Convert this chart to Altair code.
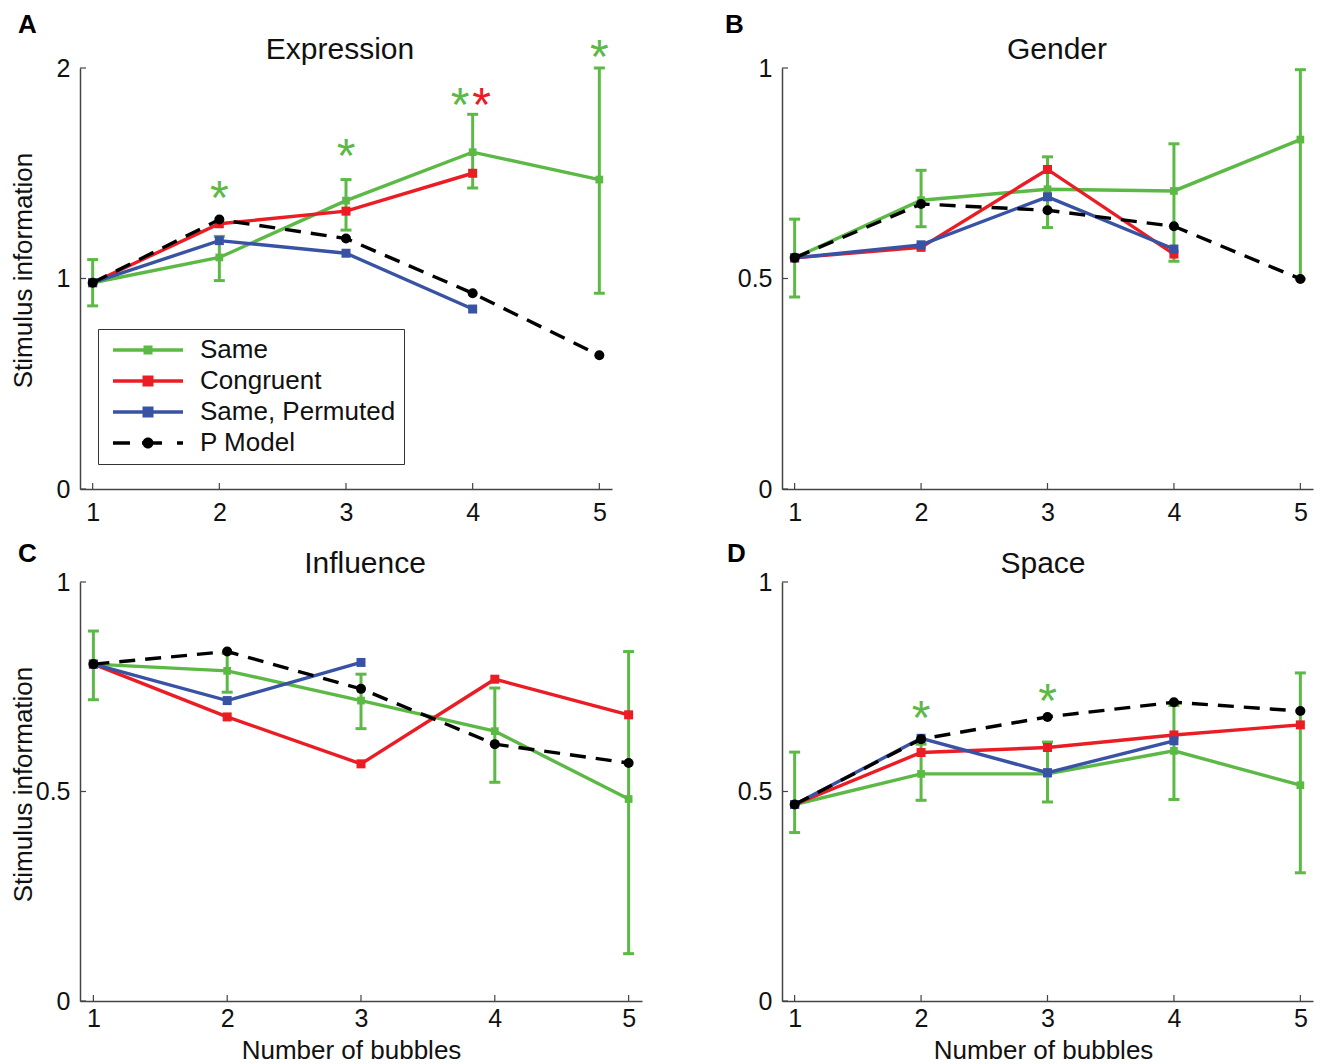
import altair as alt
import pandas as pd

FONT = "Liberation Sans"
SERIES = ["Same", "Congruent", "Same, Permuted", "P Model"]
GREEN, RED, BLUE, BLACK = "#5cb946", "#ec1c24", "#3953a4", "#000000"
COLORS = [GREEN, RED, BLUE, BLACK]
SERIES_COLOR = dict(zip(SERIES, COLORS))
AXIS_GREY = "#444444"

bubbles = [1, 2, 3, 4, 5]

# Expression
expression_same = [0.98, 1.10, 1.37, 1.60, 1.47]
expression_same_lo = [0.87, 0.99, 1.23, 1.43, 0.93]
expression_same_hi = [1.09, 1.20, 1.47, 1.78, 2.00]
expression_congruent = [0.98, 1.26, 1.32, 1.50]
expression_permuted = [0.98, 1.18, 1.12, 0.855]
expression_pmodel = [0.98, 1.28, 1.19, 0.93, 0.635]
expression_star_x = [2, 3, 3.9, 5, 4.07]
expression_star_y = [1.42, 1.62, 1.86, 2.09, 1.86]
expression_star_series = ["Same", "Same", "Same", "Same", "Congruent"]

# Gender
gender_same = [0.549, 0.686, 0.712, 0.708, 0.830]
gender_same_lo = [0.456, 0.623, 0.621, 0.541, 0.499]
gender_same_hi = [0.641, 0.757, 0.789, 0.820, 0.996]
gender_congruent = [0.549, 0.574, 0.759, 0.558]
gender_permuted = [0.549, 0.580, 0.694, 0.570]
gender_pmodel = [0.549, 0.677, 0.662, 0.624, 0.499]

# Influence
influence_same = [0.804, 0.788, 0.717, 0.644, 0.482]
influence_same_lo = [0.719, 0.737, 0.650, 0.522, 0.113]
influence_same_hi = [0.883, 0.830, 0.780, 0.747, 0.834]
influence_congruent = [0.804, 0.678, 0.566, 0.768, 0.683]
influence_permuted = [0.804, 0.717, 0.808]
influence_pmodel = [0.804, 0.834, 0.745, 0.613, 0.568]

# Space
space_same = [0.469, 0.542, 0.542, 0.597, 0.515]
space_same_lo = [0.402, 0.479, 0.475, 0.481, 0.306]
space_same_hi = [0.594, 0.613, 0.618, 0.705, 0.783]
space_congruent = [0.469, 0.593, 0.605, 0.635, 0.659]
space_permuted = [0.469, 0.627, 0.545, 0.621]
space_pmodel = [0.469, 0.625, 0.678, 0.713, 0.692]
space_star_x = [2, 3]
space_star_y = [0.694, 0.736]
space_star_series = ["Same", "Same"]


def line_marker_path(half):
    return f"M-35,-1.75H35V1.75H-35Z M{-half},{-half}H{half}V{half}H{-half}Z"


# legend glyphs: a line with its marker in the middle (dashed line + dot for the model)
LEGEND_PATHS = [
    line_marker_path(4.5),
    line_marker_path(5.5),
    line_marker_path(5.5),
    "M-35,-1.75H-18V1.75H-35Z M-6,-1.75H14V1.75H-6Z M29,-1.75H35V1.75H29Z "
    "M-5.5,0A5.5,5.5 0 0,1 5.5,0A5.5,5.5 0 0,1 -5.5,0Z",
]


def series_df(values):
    return pd.DataFrame({"x": bubbles[: len(values)], "y": values})


def panel(title, letter, same, lo, hi, congruent, permuted, pmodel, ymax, yticks,
          width, height, title_x, letter_pos, ytitle=False, xtitle_x=None,
          stars=None, legend=False):
    xs = alt.Scale(domain=[0.9, 5.1], nice=False, zero=False)
    ys = alt.Scale(domain=[0, ymax], nice=False)

    xaxis_kw = dict(values=bubbles, format="d", labelPadding=11)
    if xtitle_x is not None:
        # bottom row: labels sit closer to the axis to leave room for the title
        xaxis_kw.update(title="Number of bubbles", titleX=xtitle_x, titleY=57,
                        titleBaseline="alphabetic", titleAlign="center", labelPadding=5)
    else:
        xaxis_kw["title"] = None
    yaxis_kw = dict(values=yticks, format=".1~f", labelPadding=10)
    if ytitle:
        yaxis_kw.update(title="Stimulus information", titleX=-49, titleY=202,
                        titleBaseline="alphabetic", titleAlign="center", titleAngle=270)
    else:
        yaxis_kw["title"] = None
    xaxis = alt.Axis(**xaxis_kw)
    yaxis = alt.Axis(**yaxis_kw)

    def X(field="x"):
        return alt.X(f"{field}:Q", scale=xs, axis=xaxis)

    def Y(field="y"):
        return alt.Y(f"{field}:Q", scale=ys, axis=yaxis)

    layers = []

    # inward tick marks on both axes
    ytick_df = pd.DataFrame({"y": yticks})
    layers.append(alt.Chart(ytick_df).mark_rule(color=AXIS_GREY, strokeWidth=1.2).encode(
        y=Y(), x=alt.value(0), x2=alt.value(6)))
    xtick_df = pd.DataFrame({"x": bubbles})
    layers.append(alt.Chart(xtick_df).mark_rule(color=AXIS_GREY, strokeWidth=1.2).encode(
        x=X(), y=alt.value(height), y2=alt.value(height - 6)))

    # "Same" with its error bars
    err_df = pd.DataFrame({"x": bubbles[: len(same)], "lo": lo, "hi": hi})
    layers.append(alt.Chart(err_df).mark_rule(color=GREEN, strokeWidth=3).encode(
        x=X(), y=Y("lo"), y2="hi:Q"))
    for f in ("lo", "hi"):
        layers.append(alt.Chart(err_df).mark_tick(
            color=GREEN, thickness=3, size=11, orient="horizontal", opacity=1).encode(
            x=X(), y=Y(f)))

    def add_series(values, color, shape, size, dash=None):
        df = series_df(values)
        line_kw = dict(color=color, strokeWidth=3.4)
        if dash:
            line_kw["strokeDash"] = dash
        layers.append(alt.Chart(df).mark_line(**line_kw).encode(x=X(), y=Y()))
        layers.append(alt.Chart(df).mark_point(
            shape=shape, filled=True, size=size, color=color, opacity=1).encode(x=X(), y=Y()))

    add_series(same, GREEN, "square", 60)
    add_series(congruent, RED, "square", 81)
    add_series(permuted, BLUE, "square", 81)
    add_series(pmodel, BLACK, "circle", 100, dash=[16, 10])

    # significance asterisks
    if stars:
        sx, sy, sser = stars
        for name in dict.fromkeys(sser):
            sdf = pd.DataFrame({
                "x": [a for a, s in zip(sx, sser) if s == name],
                "y": [b for b, s in zip(sy, sser) if s == name],
            })
            layers.append(alt.Chart(sdf).mark_text(
                text="*", font=FONT, fontSize=48, color=SERIES_COLOR[name],
                align="center", baseline="alphabetic", dy=24).encode(x=X(), y=Y()))

    # panel heading and panel letter
    layers.append(alt.Chart(pd.DataFrame({"t": [title]})).mark_text(
        font=FONT, fontSize=30, color="#111111", align="center", baseline="alphabetic").encode(
        text="t:N", x=alt.value(title_x), y=alt.value(-9)))
    layers.append(alt.Chart(pd.DataFrame({"t": [letter]})).mark_text(
        font=FONT, fontSize=26, fontWeight="bold", color="#000000", align="left",
        baseline="alphabetic").encode(
        text="t:N", x=alt.value(letter_pos[0]), y=alt.value(letter_pos[1])))

    if legend:
        leg = alt.Legend(
            orient="none", legendX=18, legendY=261, title=None,
            symbolSize=4, symbolStrokeWidth=0, symbolOffset=29, labelOffset=39,
            labelFont=FONT, labelFontSize=26, labelColor="#111111", labelLimit=400,
            padding=8, rowPadding=5, strokeColor="#333333", fillColor="#ffffff")
        key_df = pd.DataFrame({"series": SERIES})
        layers.append(alt.Chart(key_df).mark_point(
            filled=True, size=4, opacity=1, clip=True).encode(
            x=alt.value(-300), y=alt.value(-300),
            color=alt.Color("series:N", scale=alt.Scale(domain=SERIES, range=COLORS), legend=leg),
            shape=alt.Shape("series:N", scale=alt.Scale(domain=SERIES, range=LEGEND_PATHS), legend=leg),
        ))

    return alt.layer(*layers).properties(width=width, height=height)


panel_a = panel("Expression", "A", expression_same, expression_same_lo, expression_same_hi,
                expression_congruent, expression_permuted, expression_pmodel,
                ymax=2, yticks=[0, 1, 2], width=532, height=421, title_x=260,
                letter_pos=(-62, -35), ytitle=True,
                stars=(expression_star_x, expression_star_y, expression_star_series),
                legend=True)
panel_b = panel("Gender", "B", gender_same, gender_same_lo, gender_same_hi,
                gender_congruent, gender_permuted, gender_pmodel,
                ymax=1, yticks=[0, 0.5, 1], width=531, height=421, title_x=275,
                letter_pos=(-57, -35))
panel_c = panel("Influence", "C", influence_same, influence_same_lo, influence_same_hi,
                influence_congruent, influence_permuted, influence_pmodel,
                ymax=1, yticks=[0, 0.5, 1], width=562, height=419, title_x=285,
                letter_pos=(-62, -20), ytitle=True, xtitle_x=271)
panel_d = panel("Space", "D", space_same, space_same_lo, space_same_hi,
                space_congruent, space_permuted, space_pmodel,
                ymax=1, yticks=[0, 0.5, 1], width=531, height=419, title_x=261,
                letter_pos=(-55, -20), xtitle_x=261,
                stars=(space_star_x, space_star_y, space_star_series))

# 2x2 grid; with flush bounds the spacing is measured between plot areas
chart = alt.concat(
    panel_a, panel_b, panel_c, panel_d,
    columns=2, spacing={"row": 93, "column": 140}, bounds="flush", align="each",
).resolve_scale(
    color="independent", shape="independent"
).resolve_legend(
    color="independent", shape="independent"
).properties(
    padding={"left": 10, "top": 12, "right": 5, "bottom": 2}
).configure_view(stroke=None).configure_axis(
    grid=False, ticks=False, tickSize=0, domainColor=AXIS_GREY, domainWidth=1.5,
    labelFont=FONT, labelFontSize=25, labelColor="#111111",
    titleFont=FONT, titleFontSize=26, titleFontWeight="normal", titleColor="#111111",
)

chart.save("out.html", embed_options={"renderer": "svg", "actions": False})
